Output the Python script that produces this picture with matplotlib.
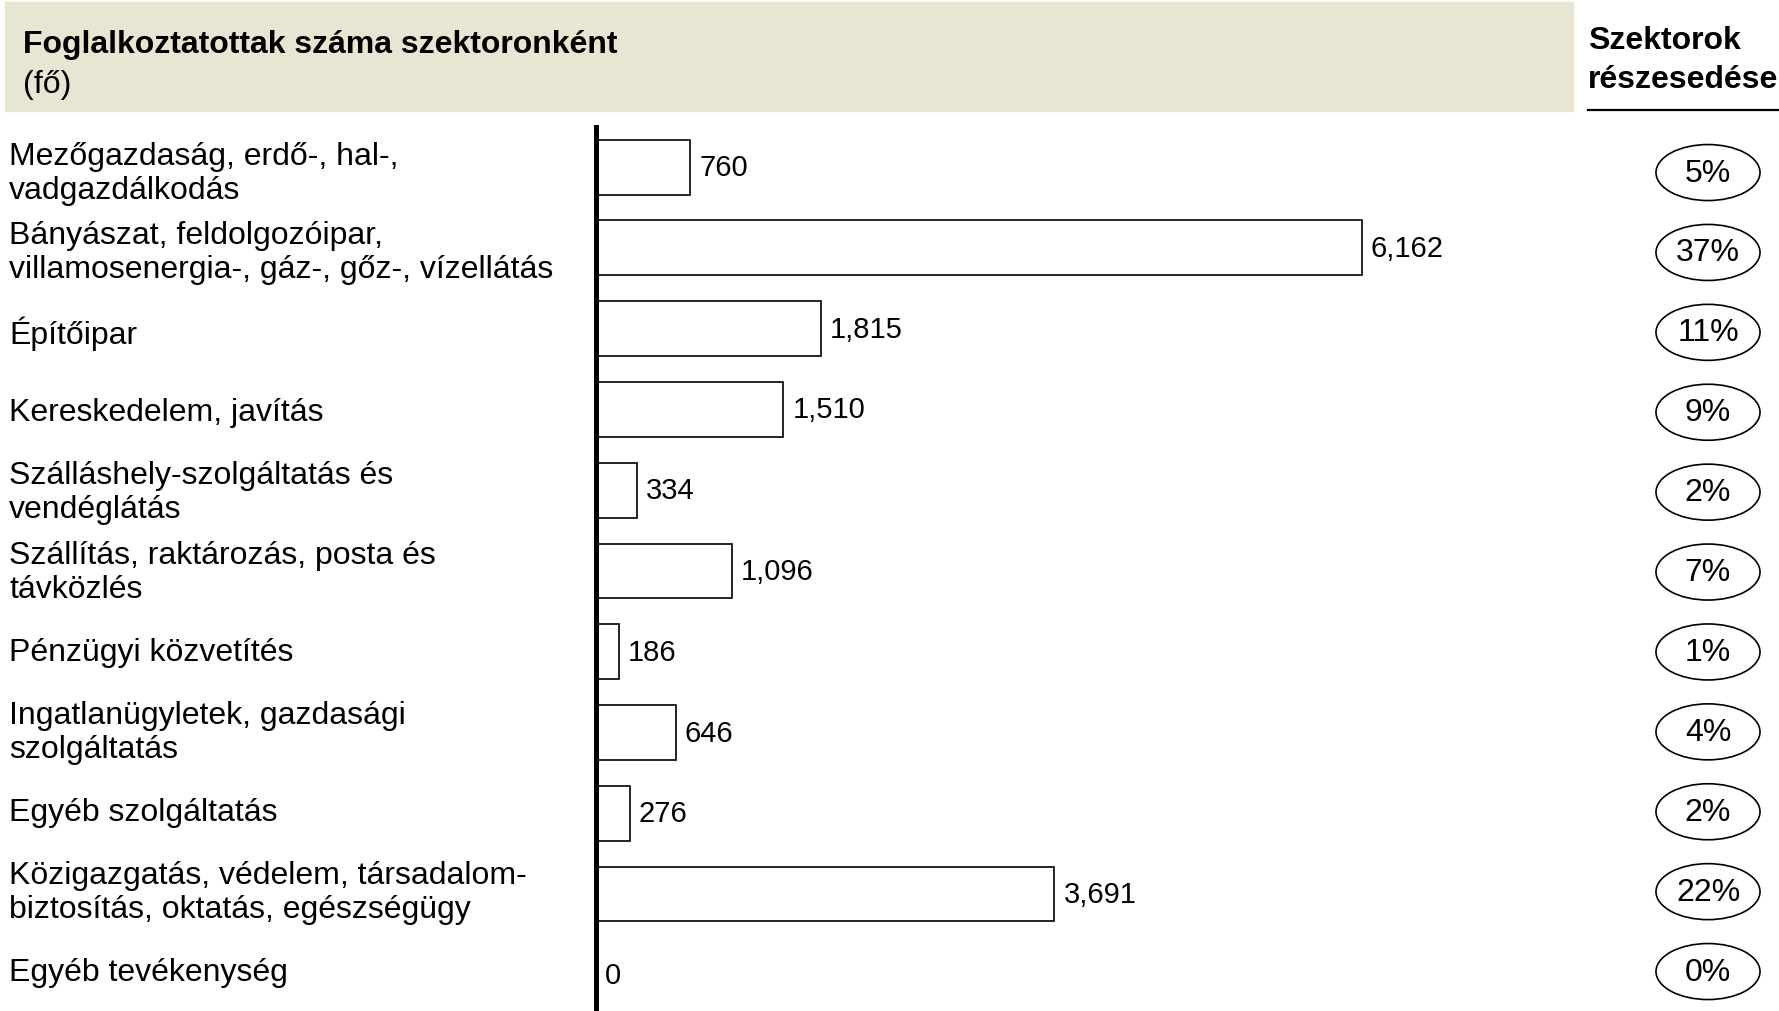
import matplotlib.pyplot as plt
from matplotlib.patches import Rectangle, Ellipse
from matplotlib.lines import Line2D

plt.rcParams["font.family"] = ["Liberation Sans", "DejaVu Sans"]

sectors = [
    "Mezőgazdaság, erdő-, hal-,\nvadgazdálkodás",
    "Bányászat, feldolgozóipar,\nvillamosenergia-, gáz-, gőz-, vízellátás",
    "Építőipar",
    "Kereskedelem, javítás",
    "Szálláshely-szolgáltatás és\nvendéglátás",
    "Szállítás, raktározás, posta és\ntávközlés",
    "Pénzügyi közvetítés",
    "Ingatlanügyletek, gazdasági\nszolgáltatás",
    "Egyéb szolgáltatás",
    "Közigazgatás, védelem, társadalom-\nbiztosítás, oktatás, egészségügy",
    "Egyéb tevékenység",
]
employees = [760, 6162, 1815, 1510, 334, 1096, 186, 646, 276, 3691, 0]
shares = [5, 37, 11, 9, 2, 7, 1, 4, 2, 22, 0]

title = "Foglalkoztatottak száma szektoronként"
unit = "(fő)"
share_title = "Szektorok\nrészesedése"

W, H = 1779, 1012
band_color = "#e9e5d3"

fig = plt.figure(figsize=(W / 100, H / 100), dpi=100)

# header band
fig.patches.append(Rectangle((5 / W, 1 - 112 / H), 1568 / W, 109 / H,
                             transform=fig.transFigure, color=band_color, zorder=0))
fig.text(23 / W, 1 - 44.5 / H, title, fontsize=23, fontweight="bold", va="center")
fig.text(23 / W, 1 - 84.5 / H, unit, fontsize=23, va="center")
sh1, sh2 = share_title.split("\n")
fig.text(1588 / W, 1 - 41 / H, sh1, fontsize=23, fontweight="bold", va="center")
fig.text(1588 / W, 1 - 80 / H, sh2, fontsize=23, fontweight="bold", va="center")
fig.add_artist(Line2D([1588 / W, 1.0], [1 - 111 / H] * 2, color="black", lw=1.6,
                      transform=fig.transFigure))

n = len(sectors)

# bar area: 11 slots of ~80.8 px, starting at y=128
top_px, slot_px = 127.8, 80.76
ax_h = n * slot_px / H
ax_bottom = 1 - top_px / H - ax_h
px_per_unit = 0.12434
left_px, right_px = 595.5, 1400
ax = fig.add_axes([left_px / W, ax_bottom, (right_px - left_px) / W, ax_h])
ax.set_xlim(0, (right_px - left_px) / px_per_unit)
ax.set_ylim(n - 0.5, -0.5)
ax.set_facecolor("none")

y = list(range(n))
ax.barh(y, employees, height=0.68, color="white", edgecolor="black", linewidth=1.2)
for i, v in enumerate(employees):
    ax.annotate(f"{v:,}", xy=(v, i), xytext=(6.5, 0), textcoords="offset points",
                va="center", ha="left", fontsize=21)

for s in ["top", "right", "bottom"]:
    ax.spines[s].set_visible(False)
ax.spines["left"].set_linewidth(3.6)
ax.set_xticks([])
ax.set_yticks([])

# side columns (labels, share ellipses) use a slightly tighter row pitch
side_top, side_slot = 133.6, 79.9
side_h = n * side_slot / H
side_bottom = 1 - side_top / H - side_h

ax_lab = fig.add_axes([0, side_bottom, left_px / W, side_h])
ax_lab.set_xlim(0, left_px)
ax_lab.set_ylim(n - 0.5, -0.5)
ax_lab.axis("off")
for i, lab in enumerate(sectors):
    ax_lab.text(9, i, lab, fontsize=23, va="center", ha="left", linespacing=1.17)

ax2 = fig.add_axes([1600 / W, side_bottom, 179 / W, side_h])
ax2.set_xlim(0, 179)
ax2.set_ylim(n - 0.5, -0.5)
ax2.axis("off")
for i, s in enumerate(shares):
    ax2.add_patch(Ellipse((108, i), 104, 56 / side_slot, facecolor="white",
                          edgecolor="black", linewidth=1.2))
    ax2.text(108, i, f"{s}%", ha="center", va="center", fontsize=23)

fig.savefig("out.png", dpi=100)
